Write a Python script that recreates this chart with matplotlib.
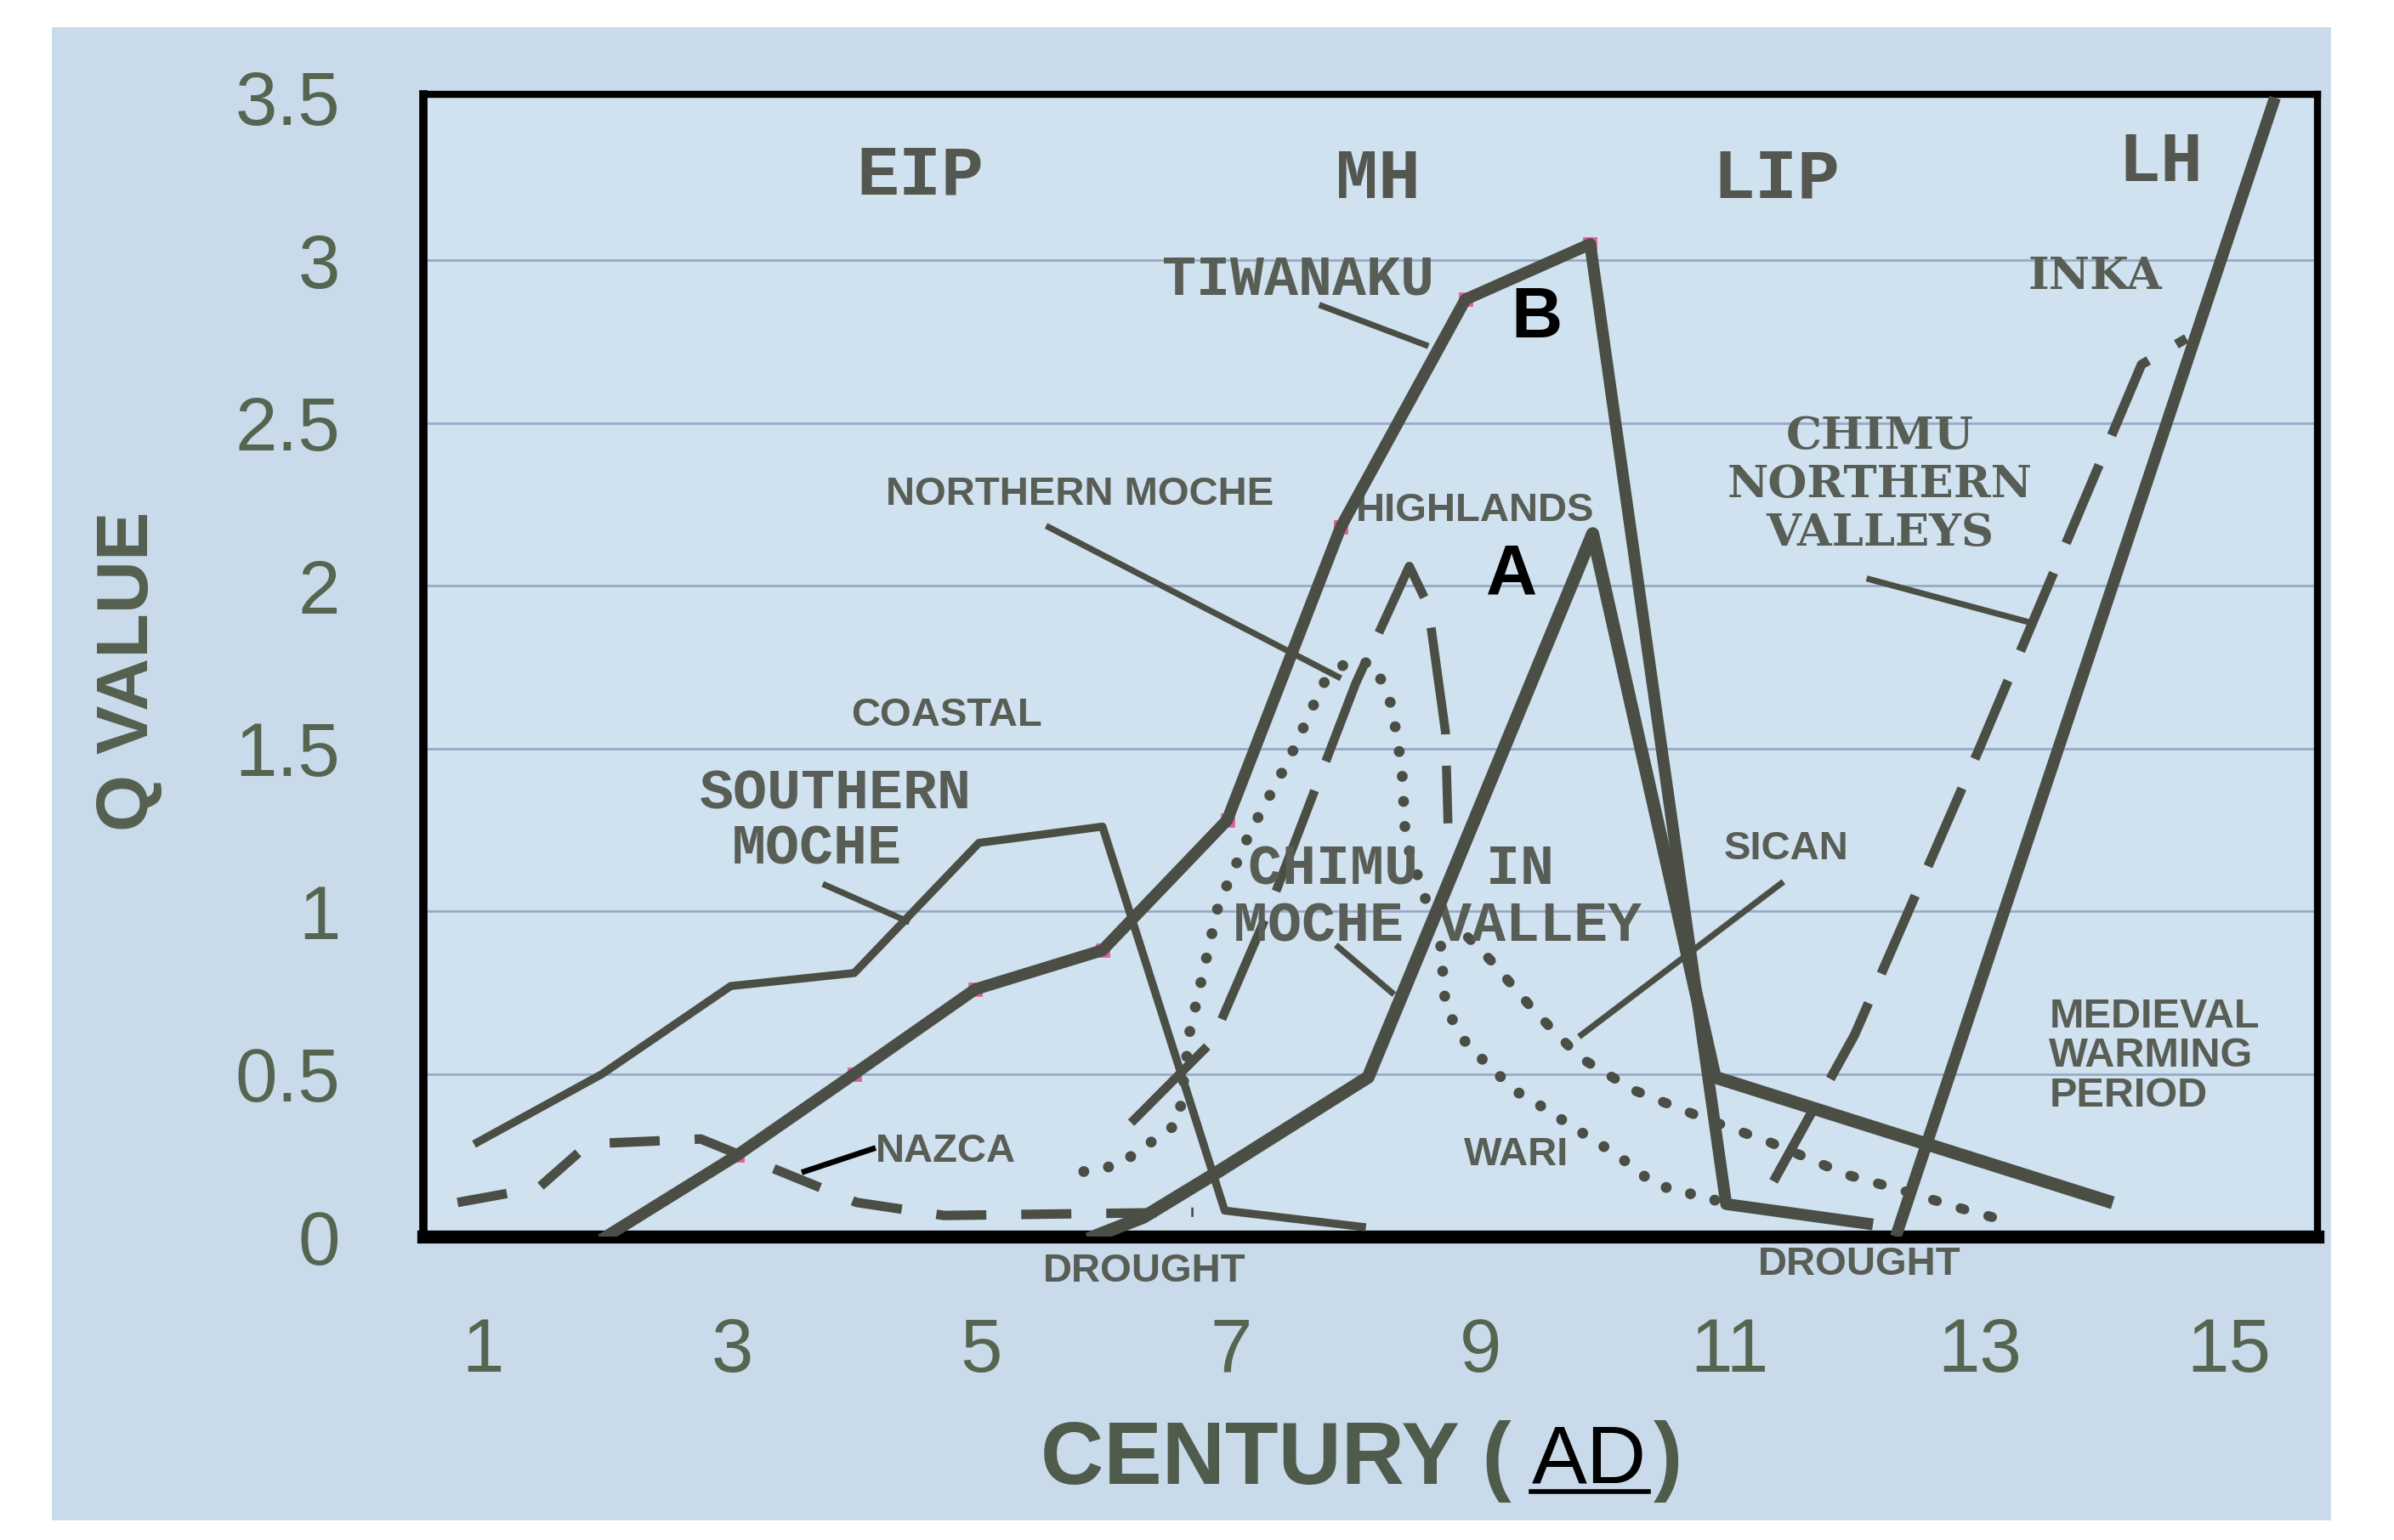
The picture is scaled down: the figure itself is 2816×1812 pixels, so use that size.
import matplotlib.pyplot as plt
from matplotlib.patches import Rectangle
from matplotlib.lines import Line2D

# --- data (century AD vs Q value) ---
coastal_x = [0.96, 1.96, 2.99, 3.98, 4.98, 5.97, 6.95, 8.05]
coastal_y = [0.29, 0.50, 0.77, 0.81, 1.21, 1.26, 0.08, 0.03]

tiwanaku_x = [1.99, 3.04, 3.98, 4.95, 5.97, 6.97, 7.88, 8.88, 9.88, 10.97, 12.1]
tiwanaku_y = [0.0, 0.25, 0.50, 0.76, 0.88, 1.28, 2.18, 2.88, 3.05, 0.10, 0.04]

wari_x = [5.9, 6.3, 6.9, 8.1, 9.9, 10.88, 14.02]
wari_y = [0.0, 0.06, 0.20, 0.49, 2.16, 0.49, 0.11]

inka_x = [12.33, 15.37]
inka_y = [0.0, 3.5]

nazca_x = [0.8, 1.45, 1.85, 2.75, 4.0, 4.7, 6.7]
nazca_y = [0.105, 0.15, 0.285, 0.30, 0.105, 0.065, 0.075]

moche_valley_x = [6.2, 6.85, 7.3, 8.0, 8.43, 8.58, 8.72, 8.74]
moche_valley_y = [0.35, 0.60, 1.00, 1.70, 2.06, 1.94, 1.55, 1.27]

n_moche_x = [5.82, 6.1, 6.58, 6.67, 6.9, 7.15, 7.47, 7.74, 7.94, 8.15, 8.29, 8.37,
             8.4, 8.68, 8.72, 8.81, 8.91, 9.06, 9.27, 9.45, 9.77, 10.1, 10.4, 10.7, 11.0]
n_moche_y = [0.20, 0.22, 0.35, 0.63, 1.02, 1.24, 1.47, 1.70, 1.77, 1.76, 1.63, 1.44,
             1.22, 0.90, 0.71, 0.64, 0.58, 0.53, 0.45, 0.41, 0.33, 0.25, 0.16, 0.13, 0.10]

sican_x = [8.9, 9.08, 9.44, 9.8, 10.23, 10.75, 11.32, 11.94, 12.4, 12.91, 13.2]
sican_y = [0.92, 0.85, 0.69, 0.55, 0.45, 0.37, 0.29, 0.19, 0.14, 0.08, 0.05]

chimu_north_x = [11.35, 12.0, 13.0, 14.3, 14.66]
chimu_north_y = [0.17, 0.62, 1.50, 2.68, 2.76]

x_ticks = [1, 3, 5, 7, 9, 11, 13, 15]
y_ticks = [0, 0.5, 1, 1.5, 2, 2.5, 3, 3.5]
y_labels = ['0', '0.5', '1', '1.5', '2', '2.5', '3', '3.5']

# leader lines from labels to curves: ((x0, y0), (x1, y1))
leaders = [((3.75, 1.08), (4.40, 0.97)),
           ((5.54, 2.18), (7.86, 1.72)),
           ((7.73, 2.86), (8.56, 2.74)),
           ((7.86, 0.89), (8.29, 0.75)),
           ((9.81, 0.62), (11.41, 1.085)),
           ((12.12, 2.02), (13.38, 1.89))]
nazca_leader = ((3.58, 0.20), (4.13, 0.27))

LINE = '#4a4e45'
TEXT = '#585d55'
TICK = '#56654f'
MONO = 'Liberation Mono'
SANS = 'Liberation Sans'
SERIF = 'DejaVu Serif'

fig = plt.figure(figsize=(14.08, 9.06), dpi=200)
fig.patch.set_facecolor('white')
fig.add_artist(Rectangle((0.022, 0.014), 0.951, 0.968, transform=fig.transFigure,
                         color='#c9dbeb', zorder=0))

ax = fig.add_axes([0.1767, 0.197, 0.968 - 0.1767, 0.9387 - 0.197])
ax.set_facecolor('#d0e1ef')
ax.set_xlim(0.523, 15.71)
ax.set_ylim(0, 3.51)

for g in y_ticks[1:-1]:
    ax.axhline(g, color='#98a9c6', lw=1.0, zorder=1)

# curves
ax.plot(coastal_x, coastal_y, color=LINE, lw=3.4, solid_joinstyle='round', zorder=3)
ax.plot(tiwanaku_x[1:9], tiwanaku_y[1:9], ls='none', marker='s', ms=5,
        color='#e0609a', zorder=2)
ax.plot(tiwanaku_x, tiwanaku_y, color=LINE, lw=5, solid_joinstyle='round', zorder=4)
ax.plot(wari_x, wari_y, color=LINE, lw=5.5, solid_joinstyle='round', zorder=4)
ax.plot(inka_x, inka_y, color=LINE, lw=5, solid_capstyle='butt', zorder=4)
ax.plot(nazca_x, nazca_y, color=LINE, lw=4, dashes=(5.3, 3.7), zorder=3)
ax.plot(moche_valley_x, moche_valley_y, color=LINE, lw=3.8, dashes=(12, 3.5), zorder=3)
ax.plot(chimu_north_x, chimu_north_y, color=LINE, lw=4, dashes=(9, 3.4), zorder=3)
ax.plot(n_moche_x, n_moche_y, color=LINE, lw=4.6, ls=(0, (0.01, 2.3)),
        dash_capstyle='round', zorder=3)
ax.plot(sican_x, sican_y, color=LINE, lw=4.2, ls=(0, (0.4, 2.5)),
        dash_capstyle='round', zorder=3)

for (x0, y0), (x1, y1) in leaders:
    ax.plot([x0, x1], [y0, y1], color=LINE, lw=2.6, zorder=3)
ax.plot([nazca_leader[0][0], nazca_leader[1][0]], [nazca_leader[0][1], nazca_leader[1][1]],
        color='black', lw=2.4, zorder=3)

# period labels
for txt, x, y in [('EIP', 4.51, 3.26), ('MH', 8.18, 3.25), ('LIP', 11.37, 3.25), ('LH', 14.45, 3.30)]:
    ax.text(x, y, txt, family=MONO, fontweight='bold', fontsize=30, color='#53574f',
            ha='center', va='center')

# courier-style labels
for txt, x, y, ha in [('TIWANAKU', 7.54, 2.94, 'center'), ('SOUTHERN', 3.83, 1.36, 'center'),
                      ('MOCHE', 3.68, 1.19, 'center'), ('CHIMU  IN', 7.14, 1.127, 'left'),
                      ('MOCHE VALLEY', 7.02, 0.953, 'left')]:
    ax.text(x, y, txt, family=MONO, fontweight='bold', fontsize=24, color=TEXT,
            ha=ha, va='center')

# sans labels
for txt, x, y, ha in [('NORTHERN MOCHE', 5.79, 2.28, 'center'), ('HIGHLANDS', 8.96, 2.23, 'center'),
                      ('COASTAL', 4.72, 1.60, 'center'), ('SICAN', 11.45, 1.19, 'center'),
                      ('NAZCA', 4.15, 0.26, 'left'), ('WARI', 9.29, 0.25, 'center')]:
    ax.text(x, y, txt, family=SANS, fontweight='bold', fontsize=17, color=TEXT,
            ha=ha, va='center')

ax.text(13.56, 0.554, 'MEDIEVAL\nWARMING\nPERIOD', family=SANS, fontweight='bold',
        fontsize=17.5, color=TEXT, ha='left', va='center', linespacing=1.05)

for x, y in [(6.31, -0.108), (12.04, -0.085)]:
    ax.text(x, y, 'DROUGHT', family=SANS, fontweight='bold', fontsize=17, color=TEXT,
            ha='center', va='center', clip_on=False)

ax.text(12.2, 2.31, 'CHIMU\nNORTHERN\nVALLEYS', family=SERIF, fontweight='bold', fontsize=19,
        color=TEXT, ha='center', va='center', linespacing=1.15)
ax.text(13.93, 2.95, 'INKA', family=SERIF, fontweight='bold', fontsize=19, color=TEXT,
        ha='center', va='center')

ax.text(9.45, 2.82, 'B', family=SANS, fontweight='bold', fontsize=30, color='black',
        ha='center', va='center')
ax.text(9.25, 2.03, 'A', family=SANS, fontweight='bold', fontsize=30, color='black',
        ha='center', va='center')

# axes styling
ax.set_xticks(x_ticks)
ax.set_yticks(y_ticks)
ax.set_yticklabels(y_labels)
ax.tick_params(length=0, labelsize=32, labelcolor=TICK)
ax.tick_params(axis='y', pad=35)
ax.tick_params(axis='x', pad=34)
for lab in ax.get_xticklabels() + ax.get_yticklabels():
    lab.set_family(SANS)

for side, w in [('bottom', 5.5), ('left', 3.5), ('top', 3), ('right', 3)]:
    ax.spines[side].set_linewidth(w)
    ax.spines[side].set_color('black')

fig.text(0.054, 0.564, 'Q VALUE', rotation=90, family=SANS, fontweight='bold', fontsize=31,
         color='#55604f', ha='center', va='center')

fig.text(0.6314, 0.0513, 'CENTURY (', family=SANS, fontweight='bold', fontsize=37,
         color='#4f5b4b', ha='right', va='center')
fig.text(0.6397, 0.0513, 'AD', family=SANS, fontsize=35, color='black', ha='left', va='center')
fig.text(0.6907, 0.0513, ')', family=SANS, fontweight='bold', fontsize=37, color='#4f5b4b',
         ha='left', va='center')
fig.add_artist(Line2D([0.6397, 0.6887], [0.0315, 0.0315], transform=fig.transFigure,
                      color='black', lw=2))

fig.savefig('out.png', dpi=200, facecolor=fig.get_facecolor())
